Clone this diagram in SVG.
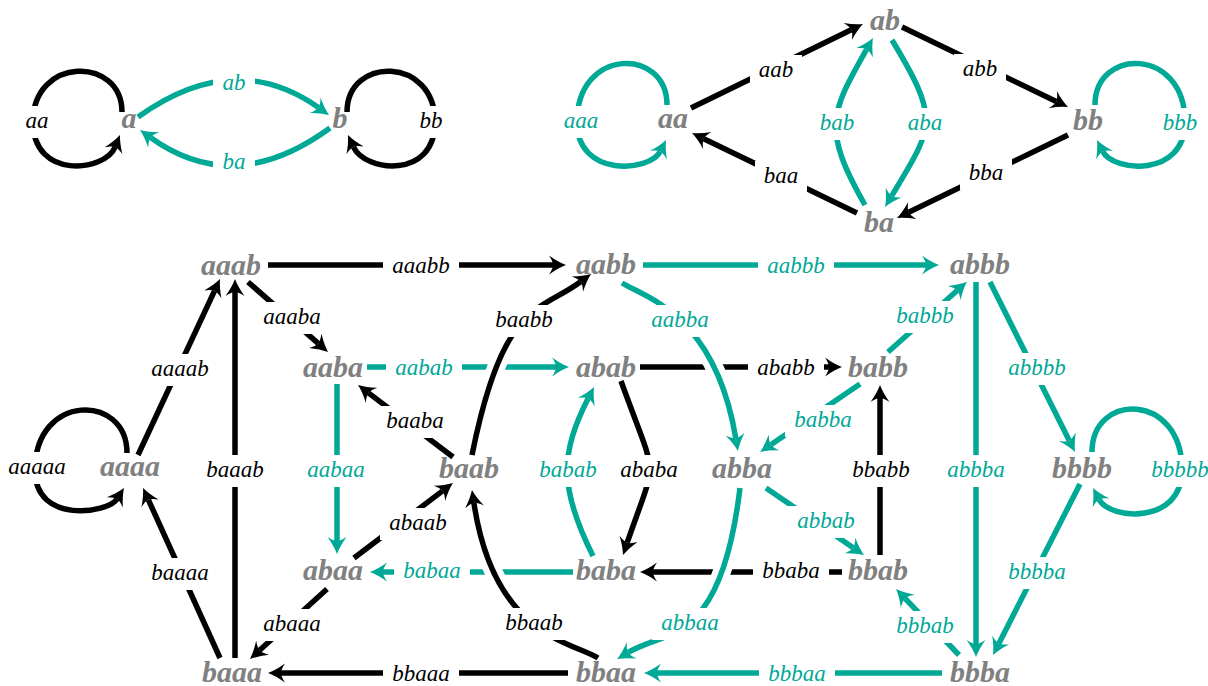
<svg xmlns="http://www.w3.org/2000/svg" width="1208" height="686" viewBox="0 0 1208 686">
<style>
.k{fill:none;stroke:#000;stroke-width:5.5;marker-end:url(#mk)}
.t{fill:none;stroke:#00a896;stroke-width:5.5;marker-end:url(#mt)}
.kn{fill:none;stroke:#000;stroke-width:5.5}
.wu{fill:none;stroke:#fff;stroke-width:18}
.bg{fill:#fff}
.lk{font-family:"Liberation Serif",serif;font-style:italic;font-size:23px;fill:#000;text-anchor:middle}
.lt{font-family:"Liberation Serif",serif;font-style:italic;font-size:23px;fill:#00a896;text-anchor:middle}
.nd{font-family:"Liberation Serif",serif;font-style:italic;font-weight:bold;font-size:30px;fill:#808080;text-anchor:middle}
</style>
<defs>
<marker id="mk" markerUnits="userSpaceOnUse" markerWidth="40" markerHeight="40" viewBox="-20 -20 40 40" refX="0" refY="0" orient="auto">
<path d="M13,0 Q5,-3 -4,-9.5 Q0,-3.5 0,0 Q0,3.5 -4,9.5 Q5,3 13,0Z" fill="#000"/>
</marker>
<marker id="mt" markerUnits="userSpaceOnUse" markerWidth="40" markerHeight="40" viewBox="-20 -20 40 40" refX="0" refY="0" orient="auto">
<path d="M13,0 Q5,-3 -4,-9.5 Q0,-3.5 0,0 Q0,3.5 -4,9.5 Q5,3 13,0Z" fill="#00a896"/>
</marker>
</defs>
<rect width="1208" height="686" fill="#fff"/>
<g id="connectors">
<!-- top-left -->
<path class="k" d="M122 112 C122 56,33 56,33 122 C33 180,105 172,115.1 147"/>
<path class="k" d="M347 112 C347 56,435 56,435 122 C435 180,365 172,353.4 146.8"/>
<path class="t" d="M138 117 Q234 48 318.4 107.5"/>
<path class="t" d="M330 128 Q234 198 150.5 137.6"/>
<!-- top-right -->
<path class="t" d="M667 105 C667 47,577 47,577 122 C577 178,650 172,660.2 151.6"/>
<path class="t" d="M1095 105 C1095 47,1185 47,1185 122 C1185 178,1113 172,1102.8 151.6"/>
<path class="k" d="M691 108 L851.3 29.7"/>
<path class="k" d="M902 27 L1056.3 101.4"/>
<path class="k" d="M1068 135 L908.7 212.3"/>
<path class="k" d="M857 213 L703.7 138.7"/>
<path class="t" d="M865 205 C822 129,830 114,866.6 49.3"/>
<path class="t" d="M892 40 C940.7 121,933.7 126,891.7 195.9"/>
<!-- bottom: straight -->
<path class="k" d="M268 265 L553 265"/>
<path class="t" d="M643 265 L926 265"/>
<path class="t" d="M367 367 L556 367"/>
<path class="k" d="M640 367 L829 367"/>
<path class="t" d="M573 572 L383 572"/>
<path class="k" d="M842 572 L653 572"/>
<path class="k" d="M568 673 L281 673"/>
<path class="t" d="M942 673 L657 673"/>
<path class="k" d="M235 658 L235 292"/>
<path class="t" d="M337 384 L337 541"/>
<path class="k" d="M880 555 L880 398"/>
<path class="t" d="M976 282 L976 644"/>
<path class="k" d="M138 455 L214.5 290.8"/>
<path class="k" d="M220 658 L148.4 499.8"/>
<path class="k" d="M248 282 L318.2 343.4"/>
<path class="k" d="M327 589 L259.6 650.3"/>
<path class="k" d="M354 558 L442.6 490.9"/>
<path class="k" d="M453 457 L368.4 392.9"/>
<path class="t" d="M888 352 L957.2 290.5"/>
<path class="t" d="M860 384 L770.8 444.7"/>
<path class="t" d="M766 488 L853.2 547.7"/>
<path class="t" d="M959 655 L905 598.4"/>
<path class="t" d="M990 282 L1069.2 440.4"/>
<path class="t" d="M1080 484 L998.9 643.4"/>
<path class="k" d="M127 453 C127 393,35 393,35 470 C35 525,108 513,117 498.9"/>
<path class="t" d="M1092 452 C1092 392,1182 392,1182 470 C1182 525,1110 520,1099.1 499.5"/>
<path class="t" d="M593 556 C559 488,560 454,588.1 398.6"/>
<path class="k" d="M621 381 C658 484,658 453,627.2 542.7"/>
<!-- bottom: crossing curves -->
<path class="wu" d="M472 455 C503 300,540 312,580.6 281.8"/>
<path class="k" d="M472 455 C503 300,540 312,580.6 281.8"/>
<path class="wu" d="M598 658 C573 642,494 637,473.9 502.9"/>
<path class="k" d="M598 658 C573 642,494 637,473.9 502.9"/>
<path class="wu" d="M622 283 C644.5 296.8,715 314,735.8 438.2"/>
<path class="t" d="M622 283 C644.5 296.8,715 314,735.8 438.2"/>
<path class="wu" d="M740 488 C720.8 646.4,667 629.4,628.2 652.4"/>
<path class="t" d="M740 488 C720.8 646.4,667 629.4,628.2 652.4"/>
</g>
<g id="edge-labels">
<rect class="bg" x="16" y="106" width="42" height="32"/><text class="lk" x="37" y="128">aa</text>
<rect class="bg" x="410" y="106" width="42" height="32"/><text class="lk" x="431" y="128">bb</text>
<rect class="bg" x="213" y="68" width="42" height="32"/><text class="lt" x="234" y="90">ab</text>
<rect class="bg" x="213" y="147" width="42" height="32"/><text class="lt" x="234" y="169">ba</text>

<rect class="bg" x="555" y="106" width="52" height="32"/><text class="lt" x="581" y="128">aaa</text>
<rect class="bg" x="750" y="55" width="52" height="32"/><text class="lk" x="776" y="77">aab</text>
<rect class="bg" x="755" y="161" width="52" height="32"/><text class="lk" x="781" y="183">baa</text>
<rect class="bg" x="811" y="108" width="52" height="32"/><text class="lt" x="837" y="130">bab</text>
<rect class="bg" x="899" y="108" width="52" height="32"/><text class="lt" x="925" y="130">aba</text>
<rect class="bg" x="954" y="54" width="52" height="32"/><text class="lk" x="980" y="76">abb</text>
<rect class="bg" x="960" y="158" width="52" height="32"/><text class="lk" x="986" y="180">bba</text>
<rect class="bg" x="1154" y="108" width="52" height="32"/><text class="lt" x="1180" y="130">bbb</text>

<rect class="bg" x="-1" y="452" width="76" height="32"/><text class="lk" x="37" y="474">aaaaa</text>
<rect class="bg" x="142" y="354" width="76" height="32"/><text class="lk" x="180" y="376">aaaab</text>
<rect class="bg" x="254" y="302" width="76" height="32"/><text class="lk" x="292" y="324">aaaba</text>
<rect class="bg" x="383" y="251" width="76" height="32"/><text class="lk" x="421" y="273">aaabb</text>
<rect class="bg" x="298" y="455" width="76" height="32"/><text class="lt" x="336" y="477">aabaa</text>
<rect class="bg" x="386" y="353" width="76" height="32"/><text class="lt" x="424" y="375">aabab</text>
<rect class="bg" x="642" y="305" width="76" height="32"/><text class="lt" x="680" y="327">aabba</text>
<rect class="bg" x="758" y="251" width="76" height="32"/><text class="lt" x="796" y="273">aabbb</text>
<rect class="bg" x="254" y="609" width="76" height="32"/><text class="lk" x="292" y="631">abaaa</text>
<rect class="bg" x="380" y="508" width="76" height="32"/><text class="lk" x="418" y="530">abaab</text>
<rect class="bg" x="611" y="455" width="76" height="32"/><text class="lk" x="649" y="477">ababa</text>
<rect class="bg" x="748" y="353" width="76" height="32"/><text class="lk" x="786" y="375">ababb</text>
<rect class="bg" x="652" y="608" width="76" height="32"/><text class="lt" x="690" y="630">abbaa</text>
<rect class="bg" x="788" y="506" width="76" height="32"/><text class="lt" x="826" y="528">abbab</text>
<rect class="bg" x="938" y="455" width="76" height="32"/><text class="lt" x="976" y="477">abbba</text>
<rect class="bg" x="999" y="353" width="76" height="32"/><text class="lt" x="1037" y="375">abbbb</text>
<rect class="bg" x="142" y="558" width="76" height="32"/><text class="lk" x="180" y="580">baaaa</text>
<rect class="bg" x="197" y="455" width="76" height="32"/><text class="lk" x="235" y="477">baaab</text>
<rect class="bg" x="377" y="406" width="76" height="32"/><text class="lk" x="415" y="428">baaba</text>
<rect class="bg" x="486" y="305" width="76" height="32"/><text class="lk" x="524" y="327">baabb</text>
<rect class="bg" x="394" y="556" width="76" height="32"/><text class="lt" x="432" y="578">babaa</text>
<rect class="bg" x="530" y="455" width="76" height="32"/><text class="lt" x="568" y="477">babab</text>
<rect class="bg" x="785" y="405" width="76" height="32"/><text class="lt" x="823" y="427">babba</text>
<rect class="bg" x="887" y="301" width="76" height="32"/><text class="lt" x="925" y="323">babbb</text>
<rect class="bg" x="383" y="659" width="76" height="32"/><text class="lk" x="421" y="681">bbaaa</text>
<rect class="bg" x="496" y="608" width="76" height="32"/><text class="lk" x="534" y="630">bbaab</text>
<rect class="bg" x="753" y="556" width="76" height="32"/><text class="lk" x="791" y="578">bbaba</text>
<rect class="bg" x="843" y="455" width="76" height="32"/><text class="lk" x="881" y="477">bbabb</text>
<rect class="bg" x="759" y="659" width="76" height="32"/><text class="lt" x="797" y="681">bbbaa</text>
<rect class="bg" x="887" y="611" width="76" height="32"/><text class="lt" x="925" y="633">bbbab</text>
<rect class="bg" x="999" y="557" width="76" height="32"/><text class="lt" x="1037" y="579">bbbba</text>
<rect class="bg" x="1142" y="455" width="76" height="32"/><text class="lt" x="1180" y="477">bbbbb</text>
</g>
<g id="n-a"><text class="nd" x="129" y="128">a</text></g>
<g id="n-b"><text class="nd" x="340" y="128">b</text></g>
<g id="n-aa"><text class="nd" x="673" y="128">aa</text></g>
<g id="n-ab"><text class="nd" x="885" y="30">ab</text></g>
<g id="n-bb"><text class="nd" x="1088" y="130">bb</text></g>
<g id="n-ba"><text class="nd" x="879" y="232">ba</text></g>
<g id="n-aaab"><text class="nd" x="231" y="275">aaab</text></g>
<g id="n-aabb"><text class="nd" x="606" y="274">aabb</text></g>
<g id="n-abbb"><text class="nd" x="980" y="274">abbb</text></g>
<g id="n-aaba"><text class="nd" x="333" y="377">aaba</text></g>
<g id="n-abab"><text class="nd" x="606" y="377">abab</text></g>
<g id="n-babb"><text class="nd" x="878" y="377">babb</text></g>
<g id="n-aaaa"><text class="nd" x="130" y="476">aaaa</text></g>
<g id="n-baab"><text class="nd" x="469" y="478">baab</text></g>
<g id="n-abba"><text class="nd" x="742" y="478">abba</text></g>
<g id="n-bbbb"><text class="nd" x="1082" y="478">bbbb</text></g>
<g id="n-abaa"><text class="nd" x="333" y="580">abaa</text></g>
<g id="n-baba"><text class="nd" x="606" y="580">baba</text></g>
<g id="n-bbab"><text class="nd" x="878" y="580">bbab</text></g>
<g id="n-baaa"><text class="nd" x="232" y="682">baaa</text></g>
<g id="n-bbaa"><text class="nd" x="606" y="682">bbaa</text></g>
<g id="n-bbba"><text class="nd" x="980" y="682">bbba</text></g>
</svg>
